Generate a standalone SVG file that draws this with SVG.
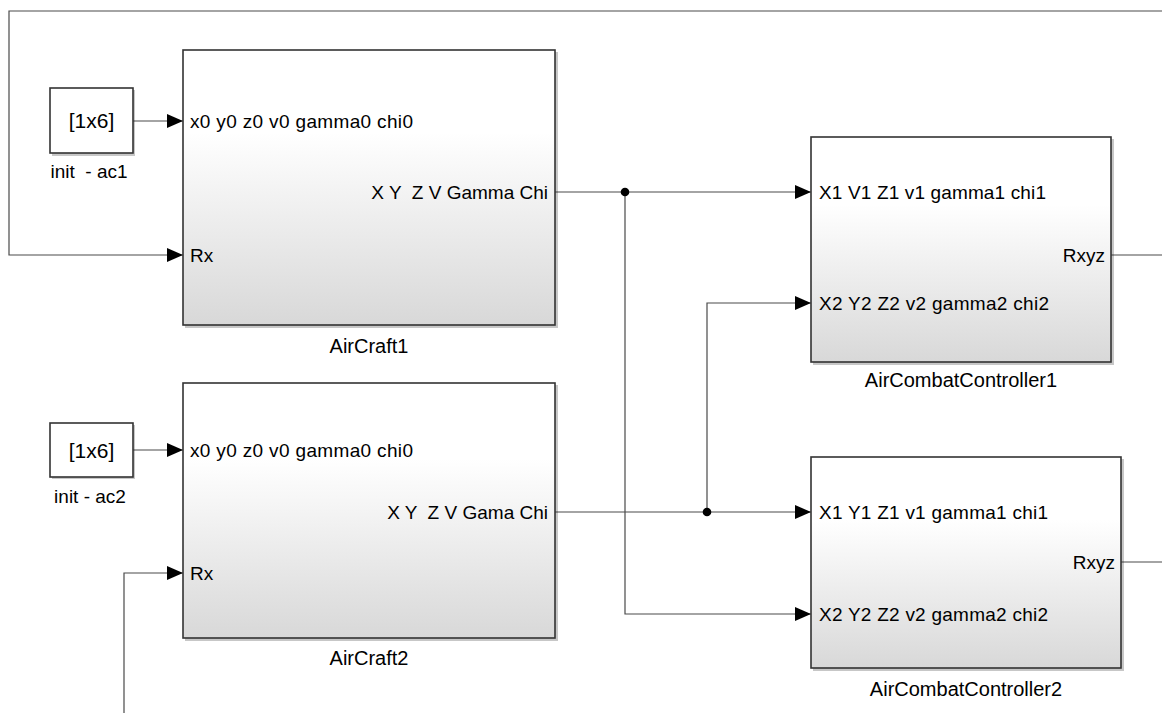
<svg xmlns="http://www.w3.org/2000/svg" width="1162" height="713" viewBox="0 0 1162 713">
<style>
text{font-family:"Liberation Sans",Arial,sans-serif;font-size:19px;fill:#000}
.nm{font-size:20px}
.big{font-size:21px}
.blk{stroke:#333;stroke-width:1.6;fill:url(#g)}
.cst{stroke:#333;stroke-width:1.6;fill:#fff}
.sh{fill:#000;opacity:.22}
.w{fill:none;stroke:#4a4a4a;stroke-width:1.2}
.mid{text-anchor:middle}
.end{text-anchor:end}
</style>
<defs>
<linearGradient id="g" x1="0" y1="0" x2="0" y2="1">
<stop offset="0" stop-color="#ffffff"/>
<stop offset="0.3" stop-color="#ffffff"/>
<stop offset="1" stop-color="#d8d8d8"/>
</linearGradient>
<marker id="a" markerWidth="16" markerHeight="14" refX="16" refY="7" orient="auto" markerUnits="userSpaceOnUse">
<path d="M0,0 L16,7 L0,14 Z" fill="#000"/>
</marker>
</defs>

<g id="connectors">
<path class="w" d="M1162,11 H9 V255 H183" marker-end="url(#a)"/>
<path class="w" d="M133,121 H183" marker-end="url(#a)"/>
<path class="w" d="M133,450 H183" marker-end="url(#a)"/>
<path class="w" d="M124,713 V573 H183" marker-end="url(#a)"/>
<path class="w" d="M555,192 H811" marker-end="url(#a)"/>
<path class="w" d="M625,192 V614 H811" marker-end="url(#a)"/>
<path class="w" d="M555,512 H811" marker-end="url(#a)"/>
<path class="w" d="M707,512 V303 H811" marker-end="url(#a)"/>
<path class="w" d="M1111,255 H1162"/>
<path class="w" d="M1121,562 H1162"/>
<circle cx="625" cy="192" r="4.3" fill="#000"/>
<circle cx="707" cy="512" r="4.3" fill="#000"/>
</g>

<g id="init-ac1">
<rect class="sh" x="52" y="90" width="83" height="66"/>
<rect class="cst" x="50" y="88" width="83" height="65"/>
<text class="mid big" x="91.5" y="128">[1x6]</text>
<text class="mid" x="89" y="178" xml:space="preserve">init  - ac1</text>
</g>

<g id="init-ac2">
<rect class="sh" x="52" y="425" width="83" height="54"/>
<rect class="cst" x="50" y="423" width="83" height="54"/>
<text class="mid big" x="91.5" y="458">[1x6]</text>
<text class="mid" x="90" y="503">init - ac2</text>
</g>

<g id="AirCraft1">
<rect class="sh" x="185" y="52" width="373" height="276"/>
<rect class="blk" x="183" y="50" width="372" height="275"/>
<text x="190" y="128" textLength="223" lengthAdjust="spacing">x0 y0 z0 v0 gamma0 chi0</text>
<text x="190" y="262">Rx</text>
<text class="end" x="548" y="199" xml:space="preserve">X Y  Z V Gamma Chi</text>
<text class="mid nm" x="369" y="353">AirCraft1</text>
</g>

<g id="AirCraft2">
<rect class="sh" x="185" y="385" width="373" height="256"/>
<rect class="blk" x="183" y="383" width="372" height="255"/>
<text x="190" y="457" textLength="223" lengthAdjust="spacing">x0 y0 z0 v0 gamma0 chi0</text>
<text x="190" y="580">Rx</text>
<text class="end" x="548" y="519" xml:space="preserve">X Y  Z V Gama Chi</text>
<text class="mid nm" x="369" y="665">AirCraft2</text>
</g>

<g id="AirCombatController1">
<rect class="sh" x="813" y="139" width="301" height="226"/>
<rect class="blk" x="811" y="137" width="300" height="225"/>
<text x="819" y="199" textLength="227" lengthAdjust="spacing">X1 V1 Z1 v1 gamma1 chi1</text>
<text x="819" y="310" textLength="230" lengthAdjust="spacing">X2 Y2 Z2 v2 gamma2 chi2</text>
<text class="end" x="1105" y="262">Rxyz</text>
<text class="mid nm" x="961" y="387">AirCombatController1</text>
</g>

<g id="AirCombatController2">
<rect class="sh" x="813" y="459" width="311" height="212"/>
<rect class="blk" x="811" y="457" width="310" height="211"/>
<text x="819" y="519" textLength="229" lengthAdjust="spacing">X1 Y1 Z1 v1 gamma1 chi1</text>
<text x="819" y="621" textLength="229" lengthAdjust="spacing">X2 Y2 Z2 v2 gamma2 chi2</text>
<text class="end" x="1115" y="569">Rxyz</text>
<text class="mid nm" x="966" y="696">AirCombatController2</text>
</g>
</svg>
